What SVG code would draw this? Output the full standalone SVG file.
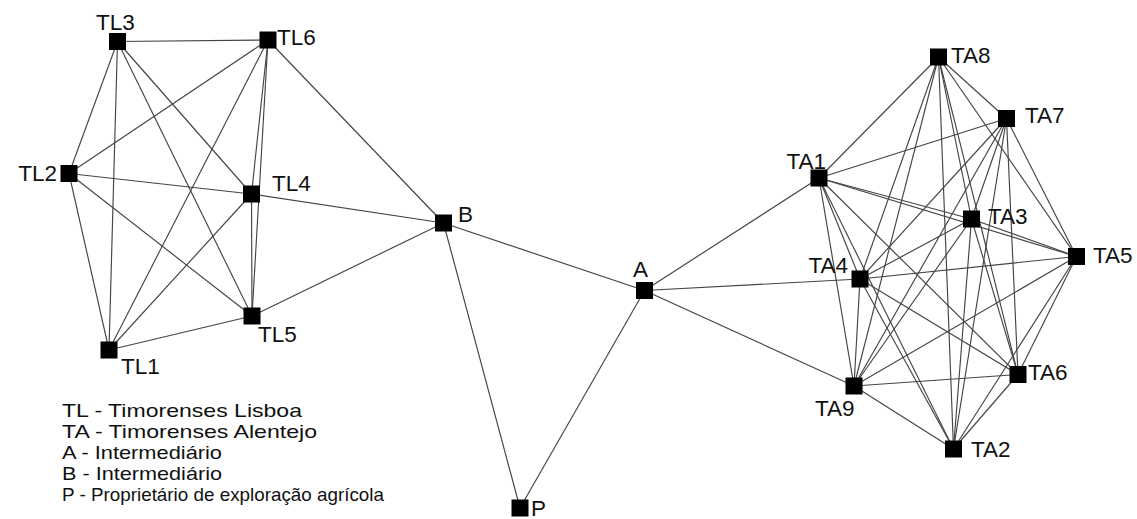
<svg xmlns="http://www.w3.org/2000/svg" width="1137" height="519" viewBox="0 0 1137 519">
<style>
.e{stroke:#444;stroke-width:1.15;fill:none}
.n{fill:#000}
.l{font-family:"Liberation Sans",Arial,sans-serif;font-size:22.5px;fill:#111}
.r{text-anchor:end}
.g{font-family:"Liberation Sans",Arial,sans-serif;font-size:18.2px;fill:#111}
</style>
<rect width="1137" height="519" fill="#fff"/>
<g id="connectors" class="e">
<line x1="117.5" y1="41.5" x2="268" y2="40"/>
<line x1="117.5" y1="41.5" x2="69" y2="173.5"/>
<line x1="117.5" y1="41.5" x2="109" y2="350"/>
<line x1="117.5" y1="41.5" x2="251.5" y2="194"/>
<line x1="117.5" y1="41.5" x2="252" y2="316"/>
<line x1="268" y1="40" x2="69" y2="173.5"/>
<line x1="268" y1="40" x2="109" y2="350"/>
<line x1="268" y1="40" x2="251.5" y2="194"/>
<line x1="268" y1="40" x2="252" y2="316"/>
<line x1="69" y1="173.5" x2="251.5" y2="194"/>
<line x1="69" y1="173.5" x2="252" y2="316"/>
<line x1="69" y1="173.5" x2="109" y2="350"/>
<line x1="251.5" y1="194" x2="109" y2="350"/>
<line x1="251.5" y1="194" x2="252" y2="316"/>
<line x1="252" y1="316" x2="109" y2="350"/>
<line x1="268" y1="40" x2="443.5" y2="223"/>
<line x1="251.5" y1="194" x2="443.5" y2="223"/>
<line x1="252" y1="316" x2="443.5" y2="223"/>
<line x1="443.5" y1="223" x2="644.5" y2="290.5"/>
<line x1="443.5" y1="223" x2="520" y2="508"/>
<line x1="644.5" y1="290.5" x2="520" y2="508"/>
<line x1="644.5" y1="290.5" x2="819" y2="178"/>
<line x1="644.5" y1="290.5" x2="860" y2="279"/>
<line x1="644.5" y1="290.5" x2="854" y2="386"/>
<line x1="938.5" y1="57" x2="1006.5" y2="118.5"/>
<line x1="938.5" y1="57" x2="819" y2="178"/>
<line x1="938.5" y1="57" x2="971.5" y2="219"/>
<line x1="938.5" y1="57" x2="1076.5" y2="256.5"/>
<line x1="938.5" y1="57" x2="860" y2="279"/>
<line x1="938.5" y1="57" x2="1018" y2="374.5"/>
<line x1="938.5" y1="57" x2="854" y2="386"/>
<line x1="938.5" y1="57" x2="953.5" y2="449"/>
<line x1="1006.5" y1="118.5" x2="819" y2="178"/>
<line x1="1006.5" y1="118.5" x2="971.5" y2="219"/>
<line x1="1006.5" y1="118.5" x2="1076.5" y2="256.5"/>
<line x1="1006.5" y1="118.5" x2="860" y2="279"/>
<line x1="1006.5" y1="118.5" x2="1018" y2="374.5"/>
<line x1="1006.5" y1="118.5" x2="854" y2="386"/>
<line x1="1006.5" y1="118.5" x2="953.5" y2="449"/>
<line x1="819" y1="178" x2="971.5" y2="219"/>
<line x1="819" y1="178" x2="1076.5" y2="256.5"/>
<line x1="819" y1="178" x2="860" y2="279"/>
<line x1="819" y1="178" x2="1018" y2="374.5"/>
<line x1="819" y1="178" x2="854" y2="386"/>
<line x1="819" y1="178" x2="953.5" y2="449"/>
<line x1="971.5" y1="219" x2="1076.5" y2="256.5"/>
<line x1="971.5" y1="219" x2="860" y2="279"/>
<line x1="971.5" y1="219" x2="1018" y2="374.5"/>
<line x1="971.5" y1="219" x2="854" y2="386"/>
<line x1="971.5" y1="219" x2="953.5" y2="449"/>
<line x1="1076.5" y1="256.5" x2="860" y2="279"/>
<line x1="1076.5" y1="256.5" x2="1018" y2="374.5"/>
<line x1="1076.5" y1="256.5" x2="854" y2="386"/>
<line x1="1076.5" y1="256.5" x2="953.5" y2="449"/>
<line x1="860" y1="279" x2="1018" y2="374.5"/>
<line x1="860" y1="279" x2="854" y2="386"/>
<line x1="860" y1="279" x2="953.5" y2="449"/>
<line x1="1018" y1="374.5" x2="854" y2="386"/>
<line x1="1018" y1="374.5" x2="953.5" y2="449"/>
<line x1="854" y1="386" x2="953.5" y2="449"/>
</g>
<g id="TL3"><rect class="n" x="109" y="33" width="17" height="17"/><text class="l" x="96" y="30">TL3</text></g>
<g id="TL6"><rect class="n" x="259.5" y="31.5" width="17" height="17"/><text class="l" x="277" y="45">TL6</text></g>
<g id="TL2"><rect class="n" x="60.5" y="165" width="17" height="17"/><text class="l r" x="57" y="181">TL2</text></g>
<g id="TL4"><rect class="n" x="243" y="185.5" width="17" height="17"/><text class="l" x="272" y="191">TL4</text></g>
<g id="TL5"><rect class="n" x="243.5" y="307.5" width="17" height="17"/><text class="l" x="258" y="342">TL5</text></g>
<g id="TL1"><rect class="n" x="100.5" y="341.5" width="17" height="17"/><text class="l" x="121" y="374">TL1</text></g>
<g id="B"><rect class="n" x="435" y="214.5" width="17" height="17"/><text class="l" x="458" y="222">B</text></g>
<g id="A"><rect class="n" x="636" y="282" width="17" height="17"/><text class="l" x="633" y="277">A</text></g>
<g id="P"><rect class="n" x="511.5" y="499.5" width="17" height="17"/><text class="l" x="531" y="516">P</text></g>
<g id="TA8"><rect class="n" x="930" y="48.5" width="17" height="17"/><text class="l" x="951" y="63">TA8</text></g>
<g id="TA7"><rect class="n" x="998" y="110" width="17" height="17"/><text class="l" x="1025" y="123">TA7</text></g>
<g id="TA1"><rect class="n" x="810.5" y="169.5" width="17" height="17"/><text class="l r" x="826" y="169">TA1</text></g>
<g id="TA3"><rect class="n" x="963" y="210.5" width="17" height="17"/><text class="l" x="988" y="224">TA3</text></g>
<g id="TA5"><rect class="n" x="1068" y="248" width="17" height="17"/><text class="l" x="1093" y="263">TA5</text></g>
<g id="TA4"><rect class="n" x="851.5" y="270.5" width="17" height="17"/><text class="l r" x="848" y="273">TA4</text></g>
<g id="TA6"><rect class="n" x="1009.5" y="366" width="17" height="17"/><text class="l" x="1028" y="380">TA6</text></g>
<g id="TA9"><rect class="n" x="845.5" y="377.5" width="17" height="17"/><text class="l" x="815" y="416">TA9</text></g>
<g id="TA2"><rect class="n" x="945" y="440.5" width="17" height="17"/><text class="l" x="971" y="457">TA2</text></g>
<g id="legend">
<text class="g" x="62" y="417" textLength="240" lengthAdjust="spacingAndGlyphs">TL - Timorenses Lisboa</text>
<text class="g" x="62" y="438" textLength="255" lengthAdjust="spacingAndGlyphs">TA - Timorenses Alentejo</text>
<text class="g" x="62" y="459" textLength="160" lengthAdjust="spacingAndGlyphs">A - Intermediário</text>
<text class="g" x="62" y="480" textLength="160" lengthAdjust="spacingAndGlyphs">B - Intermediário</text>
<text class="g" x="62" y="501" textLength="322" lengthAdjust="spacingAndGlyphs">P - Proprietário de exploração agrícola</text>
</g>
</svg>
